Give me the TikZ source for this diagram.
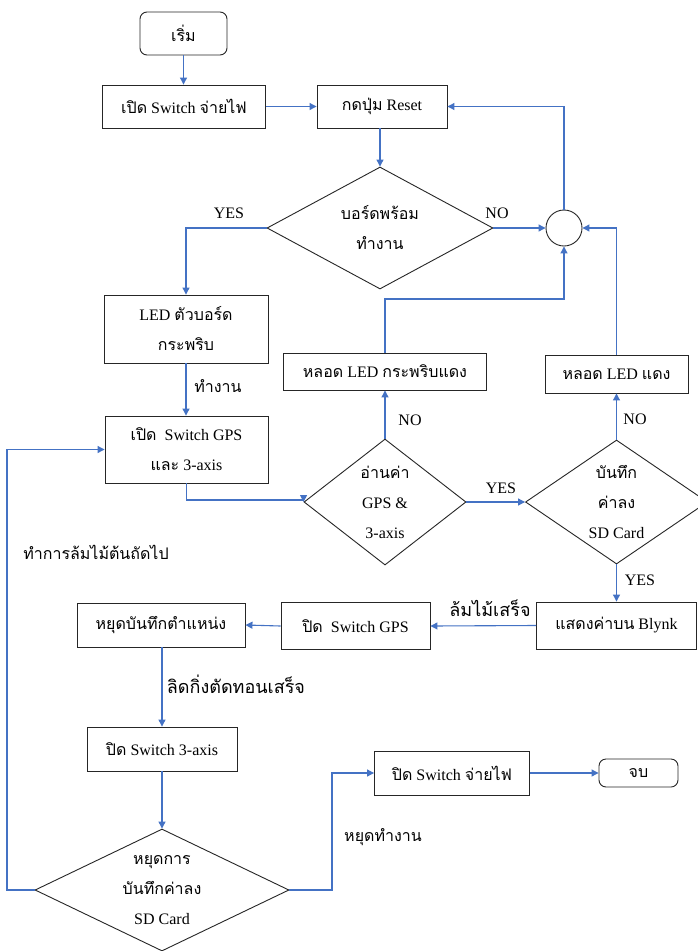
\documentclass[tikz,border=0pt]{standalone}
\usepackage{fontspec}
\setmainfont{Liberation Serif}
\newfontfamily\thfont[Script=Thai]{Loma}
\newcommand\tha[1]{{\thfont #1}}
\usetikzlibrary{arrows.meta,shapes.geometric,calc}
\definecolor{conn}{HTML}{4472C4}
\definecolor{edge}{HTML}{262626}
\begin{document}
\begin{tikzpicture}[x=1pt,y=-1pt,
  every node/.style={font=\fontsize{16}{30}\selectfont},
  box/.style={draw=edge,line width=0.9pt,inner sep=0pt,align=center,fill=white},
  rbox/.style={box,rounded corners=7pt},
  dia/.style={diamond,draw=edge,line width=0.9pt,inner sep=0pt,align=center,aspect=1.8},
  lbl/.style={inner sep=0pt,align=center},
  big/.style={font=\fontsize{18}{30}\selectfont},
  arr/.style={draw=conn,line width=1.1pt,-{Triangle[length=7pt,width=7pt]}},
  ln/.style={draw=conn,line width=1.1pt}]
\fill[white] (0,0) rectangle (697,951);
\useasboundingbox (0,0) rectangle (697,951);
% nodes
\node[rbox,minimum width=87pt,minimum height=43pt] (start) at (183.5,33.5) {\tha{เริ่ม}};
\node[box,minimum width=163pt,minimum height=43pt] (pon) at (184,106.5) {\tha{เปิด} Switch \tha{จ่ายไฟ}};
\node[box,minimum width=130pt,minimum height=43pt] (reset) at (382,106.5) {\tha{กดปุ่ม} Reset};
\node[dia,minimum width=226pt,minimum height=122pt] (d1) at (380,228) {\tha{บอร์ดพร้อม}\\\tha{ทำงาน}};
\node[circle,draw=edge,line width=0.9pt,minimum size=36pt,inner sep=0pt] (circ) at (564,228) {};
\node[box,minimum width=164pt,minimum height=68pt] (led) at (186,329) {LED \tha{ตัวบอร์ด}\\\tha{กระพริบ}};
\node[box,minimum width=203pt,minimum height=37pt] (ledblink) at (385,371.5) {\tha{หลอด} LED \tha{กระพริบแดง}};
\node[box,minimum width=143pt,minimum height=38pt] (ledred) at (616.5,374) {\tha{หลอด} LED \tha{แดง}};
\node[box,minimum width=163pt,minimum height=67pt] (gpson) at (186.5,449.5) {\tha{เปิด}\ \ Switch GPS\\\tha{และ} 3-axis};
\node[dia,minimum width=162pt,minimum height=126pt,aspect=1.3] (d2) at (385,502) {\tha{อ่านค่า}\\GPS \&\\3-axis};
\node[dia,minimum width=182pt,minimum height=124pt,aspect=1.45] (d3) at (616.5,502) {\tha{บันทึก}\\\tha{ค่าลง}\\SD Card};
\node[box,minimum width=160pt,minimum height=47pt] (blynk) at (616.5,625.5) {\tha{แสดงค่าบน} Blynk};
\node[box,minimum width=149pt,minimum height=47pt] (gpsoff) at (355.5,626) {\tha{ปิด}\ \ Switch GPS};
\node[box,minimum width=168pt,minimum height=44pt] (stoprec) at (161,625) {\tha{หยุดบันทึกตำแหน่ง}};
\node[box,minimum width=150pt,minimum height=44pt] (axoff) at (162,749) {\tha{ปิด} Switch 3-axis};
\node[dia,minimum width=254pt,minimum height=122pt,aspect=2] (d4) at (162,890) {\tha{หยุดการ}\\\tha{บันทึกค่าลง}\\SD Card};
\node[box,minimum width=155pt,minimum height=44pt] (poff) at (452,773) {\tha{ปิด} Switch \tha{จ่ายไฟ}};
\node[rbox,minimum width=79pt,minimum height=28pt] (end) at (638.5,773) {\tha{จบ}};
% helper coordinates
\coordinate (j1) at (564,299);
\coordinate (lft) at (7,0);
\coordinate (rgt) at (332,0);
\coordinate (gy) at (0,500);
% connectors
\draw[arr] (start.south) -- (start.south |- pon.north);
\draw[arr] (pon.east) -- (reset.west);
\draw[arr] (circ.north) |- (reset.east);
\draw[arr] (d1.north |- reset.south) -- (d1.north);
\draw[arr] (d1.east) -- (circ.west);
\draw[arr] (d1.west) -| (led.north);
\draw[arr] (led.south) -- (led.south |- gpson.north);
\draw[arr] (gpson.south) -- (gpson.south |- gy) -- (gy -| d2.west) -- (d2.west);
\draw[arr] (d2.north) -- (d2.north |- ledblink.south);
\draw[arr] (ledblink.north) |- (j1) -- (circ.south);
\draw[arr] (d2.east) -- (d3.west);
\draw[arr] (d3.north) -- (d3.north |- ledred.south);
\draw[arr] (ledred.north) |- (circ.east);
\draw[arr] (d3.south) -- (blynk.north);
\draw[arr] (blynk.west) -- (gpsoff.east);
\draw[arr] (gpsoff.west) -- (stoprec.east);
\draw[arr] (stoprec.south -| axoff.north) -- (axoff.north);
\draw[arr] (axoff.south) -- (d4.north);
\draw[arr] (d4.west) -| (lft |- gpson.west) -- (gpson.west);
\draw[arr] (d4.east) -| (rgt |- poff.west) -- (poff.west);
\draw[arr] (poff.east) -- (end.west);
% labels
\node[lbl] (l1) at (229,213) {YES};
\node[lbl] (l2) at (497,213) {NO};
\node[lbl] (l3) at (218,386) {\tha{ทำงาน}};
\node[lbl] (l4) at (410,420) {NO};
\node[lbl] (l5) at (635,419) {NO};
\node[lbl] (l6) at (501,488) {YES};
\node[lbl] (l7) at (640,580) {YES};
\node[lbl,big] (l8) at (490,608) {\tha{ล้มไม้เสร็จ}};
\node[lbl,big] (l9) at (236,684) {\tha{ลิดกิ่งตัดทอนเสร็จ}};
\node[lbl] (l10) at (96,552) {\tha{ทำการล้มไม้ต้นถัดไป}};
\node[lbl] (l11) at (383,837) {\tha{หยุดทำงาน}};
\end{tikzpicture}
\end{document}
